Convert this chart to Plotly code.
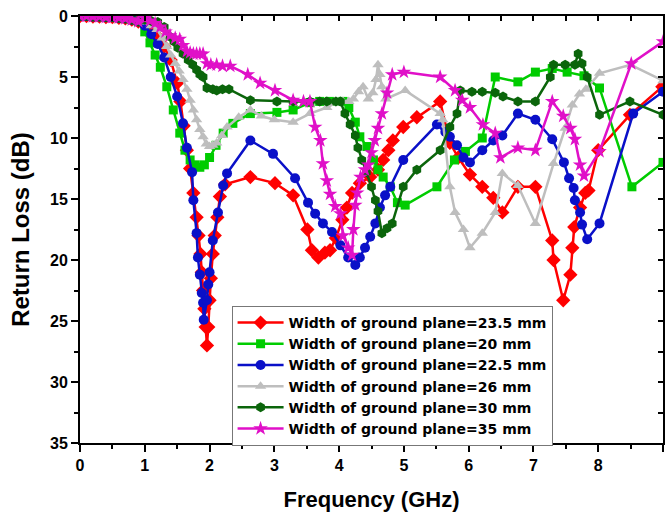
import plotly.graph_objects as go

start_x = [0, 0.1, 0.2, 0.3, 0.4, 0.5, 0.6, 0.7, 0.8, 0.9]
start_y = [0, 0, 0.05, 0.05, 0.1, 0.1, 0.15, 0.2, 0.3, 0.45]

red_x = start_x + [1.0, 1.1, 1.2, 1.3, 1.4, 1.5, 1.55, 1.6, 1.65, 1.7, 1.75, 1.8, 1.83, 1.86, 1.88, 1.9, 1.92, 1.94, 1.96,
                   1.98, 2.0, 2.02, 2.05, 2.08, 2.12, 2.16, 2.24, 2.63, 3.01, 3.29, 3.51, 3.58, 3.68, 3.78, 3.86, 3.95,
                   4.05, 4.12, 4.2, 4.32, 4.48, 4.6, 4.68, 4.76, 4.83, 4.99, 5.2, 5.56, 5.71, 5.84, 6.02, 6.21, 6.38,
                   6.52, 6.76, 7.03, 7.29, 7.31, 7.46, 7.57, 7.6, 7.63, 7.72, 7.8, 7.85, 8.0, 8.49, 8.99]
red_y = start_y + [0.7, 1.1, 1.7, 2.5, 3.6, 5.5, 7.0, 9.0, 11.0, 12.5, 14.5, 16.5, 18.0, 19.5, 21.0, 22.5, 24.0, 25.5, 27.0,
                   25.5, 23.3, 21.5, 19.5, 18.0, 16.5, 14.8, 13.8, 13.2, 13.7, 14.7, 17.5, 19.2, 19.8, 19.4, 19.2, 18.2,
                   16.7, 15.7, 14.5, 13.7, 13.2, 12.6, 11.8, 11.0, 10.2, 9.1, 8.3, 7.0, 10.4, 11.6, 13.0, 14.0, 14.9,
                   16.1, 14.0, 14.0, 18.4, 20.0, 23.3, 21.2, 19.0, 17.3, 15.7, 14.5, 14.3, 11.0, 8.1, 5.8]

green_x = start_x + [1.0, 1.08, 1.16, 1.24, 1.34, 1.44, 1.54, 1.62, 1.7, 1.78, 1.85, 1.92, 2.0, 2.1, 2.21, 2.36, 2.63,
                     3.04, 3.29, 3.55, 3.7, 3.85, 4.06, 4.15, 4.25, 4.32, 4.43, 4.53, 4.6, 4.68, 4.79, 4.9, 5.02, 5.51,
                     5.78, 5.95, 6.21, 6.41, 6.76, 7.03, 7.29, 7.52, 7.78, 8.02, 8.52, 9.0]
green_y = start_y + [1.3, 2.2, 3.2, 4.2, 5.8, 7.7, 9.6, 11.0, 11.8, 12.2, 12.4, 12.2, 11.6, 10.6, 9.6, 8.8, 8.0,
                     7.9, 7.7, 7.1, 7.0, 7.0, 7.0, 7.5, 8.7, 9.9, 10.7, 11.8, 12.6, 13.2, 14.0, 15.3, 15.5, 14.0,
                     11.8, 11.1, 10.0, 5.0, 5.4, 4.6, 4.3, 4.6, 4.9, 5.9, 14.0, 12.0]

blue_x = start_x + [1.0, 1.1, 1.2, 1.3, 1.4, 1.5, 1.59, 1.65, 1.73, 1.75, 1.8, 1.82, 1.85, 1.88, 1.9, 1.91, 1.96, 1.98,
                    2.0, 2.05, 2.13, 2.21, 2.27, 2.63, 2.98, 3.32, 3.52, 3.63, 3.75, 3.89, 4.02, 4.14, 4.25, 4.32, 4.4,
                    4.48, 4.56, 4.63, 4.71, 4.79, 4.99, 5.51, 5.64, 5.71, 5.82, 5.92, 6.02, 6.21, 6.38, 6.52, 6.76,
                    7.03, 7.29, 7.47, 7.55, 7.62, 7.64, 7.72, 7.75, 7.83, 8.02, 8.54, 9.0]
blue_y = start_y + [0.8, 1.5, 2.3, 3.4, 5.0, 6.6, 8.8, 10.8, 12.8, 15.1, 17.8, 19.8, 21.2, 22.7, 23.5, 24.9, 23.3, 22.0,
                    21.0, 18.4, 16.1, 13.9, 12.9, 10.2, 11.3, 13.3, 15.3, 16.2, 17.0, 17.7, 18.8, 19.8, 20.4, 19.8, 19.0,
                    18.1, 17.0, 15.7, 14.7, 14.0, 11.8, 8.9, 9.5, 9.9, 10.6, 11.6, 12.0, 11.0, 10.2, 9.8, 8.0,
                    8.5, 10.1, 12.0, 13.3, 14.1, 15.1, 16.1, 17.1, 18.3, 17.0, 8.0, 6.2]

gray_x = start_x + [1.0, 1.1, 1.19, 1.27, 1.34, 1.4, 1.47, 1.53, 1.59, 1.65, 1.7, 1.75, 1.8, 1.85, 1.9, 1.95, 2.0, 2.05,
                    2.11, 2.19, 2.27, 2.45, 2.63, 2.8, 3.0, 3.29, 3.55, 3.81, 3.95, 4.06, 4.15, 4.22, 4.3, 4.37, 4.45,
                    4.52, 4.57, 4.6, 4.63, 4.66, 4.72, 5.02, 5.56, 5.6, 5.71, 5.79, 5.92, 6.02, 6.21, 6.41, 6.52, 6.76,
                    7.03, 7.31, 7.49, 7.6, 7.71, 7.81, 8.02, 8.5, 9.0]
gray_y = start_y + [0.5, 0.8, 1.1, 1.8, 2.5, 3.2, 3.9, 4.5, 5.2, 6.0, 6.9, 7.7, 8.5, 9.3, 9.9, 10.5, 10.7, 10.6,
                    10.4, 9.8, 9.1, 8.3, 7.7, 8.2, 8.5, 8.7, 8.0, 7.5, 7.1, 7.0, 7.0, 6.8, 6.2, 5.8, 6.8,
                    6.3, 5.2, 4.0, 4.8, 5.8, 6.8, 6.1, 8.0, 8.5, 14.0, 16.1, 17.5, 19.0, 17.8, 16.1, 12.9, 13.9,
                    17.0, 12.1, 9.2, 7.3, 6.4, 6.0, 4.7, 4.0, 5.3]

dkgreen_x = start_x + [1.0, 1.1, 1.2, 1.3, 1.39, 1.45, 1.51, 1.59, 1.67, 1.74, 1.8, 1.85, 1.9, 1.96, 2.05, 2.11, 2.2,
                       2.3, 2.63, 3.04, 3.29, 3.55, 3.7, 3.81, 3.95, 4.02, 4.09, 4.17, 4.25, 4.29, 4.35, 4.42, 4.5,
                       4.56, 4.6, 4.66, 4.74, 4.82, 4.99, 5.2, 5.56, 5.71, 5.82, 5.87, 6.05, 6.21, 6.41, 6.53, 6.76,
                       7.03, 7.26, 7.31, 7.49, 7.64, 7.69, 7.75, 7.83, 8.02, 8.49, 9.0]
dkgreen_y = start_y + [0.3, 0.4, 0.5, 0.9, 1.7, 2.1, 2.6, 3.1, 3.6, 4.0, 4.4, 4.8, 5.0, 5.9, 6.0, 6.1, 6.0,
                       6.0, 6.9, 7.0, 7.0, 7.0, 7.0, 7.0, 7.0, 7.0, 8.0, 8.9, 9.8, 10.8, 11.8, 12.8, 14.0,
                       15.1, 16.0, 17.8, 17.4, 17.0, 14.0, 12.6, 11.0, 9.1, 8.0, 6.1, 6.2, 6.2, 6.3, 6.6, 7.0,
                       7.0, 5.0, 4.0, 4.0, 4.0, 3.1, 3.9, 5.0, 8.1, 7.0, 8.1]

mag_x = start_x + [1.0, 1.08, 1.16, 1.24, 1.32, 1.39, 1.47, 1.54, 1.59, 1.65, 1.7, 1.75, 1.8, 1.85, 1.9, 1.96, 2.02,
                   2.11, 2.2, 2.32, 2.59, 2.78, 3.01, 3.29, 3.45, 3.55, 3.63, 3.71, 3.75, 3.81, 3.86, 3.94, 4.02,
                   4.06, 4.14, 4.2, 4.22, 4.25, 4.28, 4.33, 4.4, 4.45, 4.5, 4.55, 4.6, 4.66, 4.74, 4.82, 5.0, 5.56,
                   5.79, 5.9, 6.02, 6.22, 6.41, 6.49, 6.76, 7.03, 7.29, 7.46, 7.57, 7.64, 7.72, 7.78, 8.02, 8.51, 9.0]
mag_y = start_y + [0.2, 0.4, 0.6, 0.9, 1.3, 1.6, 1.8, 1.9, 2.4, 2.9, 3.0, 3.1, 3.1, 3.1, 3.1, 3.9, 4.0,
                   4.0, 4.1, 4.1, 4.8, 5.5, 6.1, 6.9, 7.0, 7.0, 9.1, 10.2, 12.1, 13.5, 14.6, 15.6, 16.2,
                   18.0, 19.0, 19.6, 17.5, 15.5, 14.5, 13.2, 12.6, 12.2, 11.2, 10.2, 9.2, 8.0, 6.3, 4.8, 4.6, 5.0,
                   6.1, 6.9, 7.5, 8.9, 9.6, 11.6, 10.8, 11.0, 7.0, 8.2, 9.2, 10.1, 12.2, 13.1, 11.1, 3.9, 2.1]

series = [
    ("Width of ground plane=23.5 mm", red_x, red_y, "#FF0000", "diamond", 11),
    ("Width of ground plane=20 mm", green_x, green_y, "#00CC00", "square", 9),
    ("Width of ground plane=22.5 mm", blue_x, blue_y, "#0A10C8", "circle", 10),
    ("Width of ground plane=26 mm", gray_x, gray_y, "#BEBEBE", "triangle-up", 10),
    ("Width of ground plane=30 mm", dkgreen_x, dkgreen_y, "#0B650B", "hexagon", 10),
    ("Width of ground plane=35 mm", mag_x, mag_y, "#E010C8", "star", 11),
]

FONT = "Liberation Sans, Arial, sans-serif"
LEGFONT = "DejaVu Sans, Liberation Sans, sans-serif"

fig = go.Figure()
for name, xs, ys, col, sym, sz in series:
    fig.add_trace(go.Scatter(x=xs, y=ys, name=name, mode="lines+markers",
                             line=dict(color=col, width=2.5),
                             marker=dict(symbol=sym, size=sz, color=col)))

# dummy traces to activate mirrored inner-tick axes
fig.add_trace(go.Scatter(x=[None], y=[None], xaxis="x2", yaxis="y", showlegend=False, hoverinfo="skip"))
fig.add_trace(go.Scatter(x=[None], y=[None], xaxis="x", yaxis="y2", showlegend=False, hoverinfo="skip"))

axis_common = dict(showgrid=False, zeroline=False, showline=True, linecolor="black", linewidth=2,
                   mirror=True, ticks="outside", ticklen=7, tickwidth=2, tickcolor="black",
                   tickfont=dict(family=FONT, size=16, color="black", weight="bold"))

fig.update_layout(
    width=667, height=519,
    margin=dict(l=80, r=2, t=16, b=76),
    paper_bgcolor="white", plot_bgcolor="white",
    xaxis=dict(range=[0, 9], dtick=1, tick0=0,
               minor=dict(dtick=0.5, ticks="outside", ticklen=4, tickwidth=2, tickcolor="black"),
               title=dict(text="Frequency (GHz)", standoff=18,
                          font=dict(family=FONT, size=22, color="black", weight="bold")),
               **axis_common),
    yaxis=dict(range=[35, 0], dtick=5, tick0=0,
               minor=dict(dtick=2.5, ticks="outside", ticklen=4, tickwidth=2, tickcolor="black"),
               title=dict(text="Return Loss (dB)", standoff=14,
                          font=dict(family=FONT, size=24, color="black", weight="bold")),
               **axis_common),
    xaxis2=dict(range=[0, 9], overlaying="x", side="top", anchor="y", dtick=0.5, tick0=0,
                ticks="inside", ticklen=5, tickwidth=2, tickcolor="black", showticklabels=False,
                showgrid=False, zeroline=False, showline=False),
    yaxis2=dict(range=[35, 0], overlaying="y", side="right", anchor="x", dtick=2.5, tick0=0,
                ticks="inside", ticklen=5, tickwidth=2, tickcolor="black", showticklabels=False,
                showgrid=False, zeroline=False, showline=False),
    legend=dict(x=0.26, y=0.321, xanchor="left", yanchor="top",
                bgcolor="white", bordercolor="#777777", borderwidth=1,
                font=dict(family=LEGFONT, size=14, color="black", weight="bold"),
                itemwidth=46, tracegroupgap=0),
    showlegend=True,
)

fig.write_html("out.html")
